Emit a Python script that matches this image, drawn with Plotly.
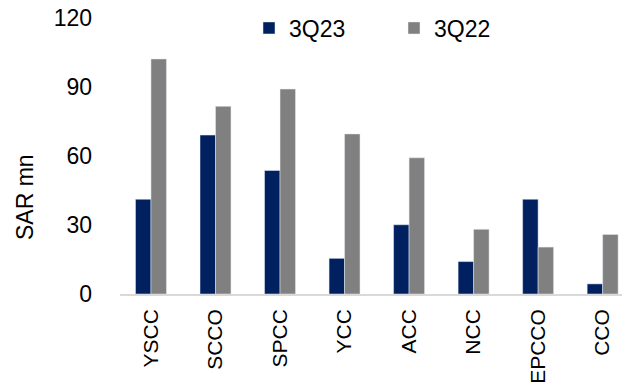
import plotly.graph_objects as go

categories = ["YSCC", "SCCO", "SPCC", "YCC", "ACC", "NCC", "EPCCO", "CCO"]
q3_23 = [41.2, 69.1, 53.7, 15.5, 30.1, 14.1, 41.2, 4.4]
q3_22 = [102.2, 81.6, 89.1, 69.6, 59.2, 28.1, 20.4, 25.9]
y_ticks = [0, 30, 60, 90, 120]

FONT = "Liberation Sans, Arial, sans-serif"
W, H = 622, 383
L, R, T, B = 120, 0, 18, 89
pw = W - L - R
ph = H - T - B

fig = go.Figure()
fig.add_trace(go.Bar(name="3Q23", x=categories, y=q3_23, marker_color="#002060"))
fig.add_trace(go.Bar(name="3Q22", x=categories, y=q3_22, marker_color="#808080"))

fig.update_layout(
    width=W, height=H,
    margin=dict(l=L, r=R, t=T, b=B, pad=0),
    paper_bgcolor="white", plot_bgcolor="white",
    barmode="group", bargap=0.52, bargroupgap=0,
    font=dict(family=FONT, size=23, color="#000000"),
    showlegend=True,
    legend=dict(orientation="h", x=(249 - L) / pw, xanchor="left",
                y=1 - (28 - T) / ph, yanchor="middle",
                bgcolor="rgba(0,0,0,0)", font=dict(size=23),
                entrywidth=100, entrywidthmode="pixels"),
    xaxis=dict(type="category", range=[-0.48, 7.30], showgrid=False,
               showline=True, linecolor="#D9D9D9", linewidth=1.5,
               tickangle=-90, tickfont=dict(size=21), ticks="",
               ticklabelstandoff=5),
    yaxis=dict(range=[0, 120], tickvals=y_ticks, showgrid=False,
               showline=False, zeroline=False, ticks="",
               ticklabelstandoff=27, tickfont=dict(size=23)),
    annotations=[dict(text="SAR mn", xref="paper", yref="paper",
                      x=(25 - L) / pw, y=1 - (197 - T) / ph,
                      textangle=-90, showarrow=False,
                      font=dict(size=23), xanchor="center", yanchor="middle")],
)

fig.write_html("out.html")
